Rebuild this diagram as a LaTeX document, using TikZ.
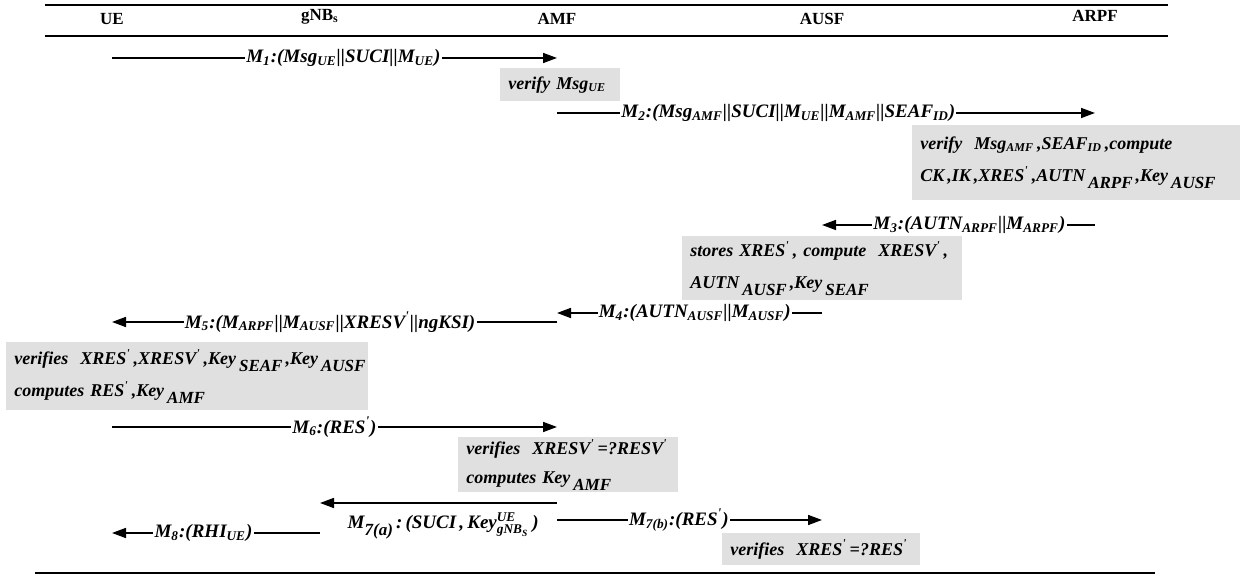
\documentclass[tikz,border=0pt]{standalone}
\usepackage{amsmath}
\usepackage{fontspec}
\setmainfont{Liberation Serif}
\usetikzlibrary{arrows.meta}
\usetikzlibrary{positioning}
\definecolor{boxgray}{HTML}{E0E0E0}
\newcommand{\sbs}[1]{$_{\text{#1}}$}
\newcommand{\bsb}[1]{\raisebox{-0.8ex}{\fontsize{8.5}{9}\selectfont #1}}
\newcommand{\pr}{$^{\text{\textquotesingle}}$}
\begin{document}
\begin{tikzpicture}[x=0.5pt,y=-0.5pt,
                hdr/.style={font=\fontsize{8.5}{9}\selectfont\bfseries,inner sep=0pt},
                rule/.style={line width=1.2pt},
                msg/.style={line width=0.8pt,-{Triangle[length=7pt,width=5pt]}},
                lbl/.style={font=\fontsize{9.5}{10}\selectfont\bfseries\itshape,
                    fill=white,inner sep=0.6pt},
                chk/.style n args={2}{fill=boxgray,anchor=north west,
                    font=\fontsize{9}{16}\selectfont\bfseries\itshape,
                    minimum width=#1,minimum height=#2,
                    text width=#1-8pt,align=left,inner xsep=4pt,inner ysep=0pt}]
                \useasboundingbox (0,0) rectangle (1254,576);
                % entities
                \draw[rule] (45,5) -- (1168,5);
                \draw[rule] (45,36) -- (1168,36);
                \node[hdr] (ue) at (112,19) {UE};
                \node[hdr] (gnb) at (320,17) {gNB\textsubscript{s}};
                \node[hdr] (amf) at (557,19) {AMF};
                \node[hdr] (ausf) at (822,19) {AUSF};
                \node[hdr] (arpf) at (1095,16) {ARPF};
                \draw[rule] (35,573) -- (1155,573);
                % rows of the messages
                \coordinate (r1) at (0,58);
                \coordinate (r2) at (0,113);
                \coordinate (r3) at (0,225);
                \coordinate (r4) at (0,313);
                \coordinate (r5) at (0,322);
                \coordinate (r6) at (0,427);
                \coordinate (r7) at (0,503);
                \coordinate (r8) at (0,520);
                \coordinate (r9) at (0,533);
                % messages
                \draw[msg] (ue |- r1) -- (amf |- r1)
                    node[lbl,pos=0.52] (m1) {M\sbs{1}:(Msg\sbs{UE}||SUCI||M\sbs{UE})};
                \node[chk={60pt}{16.5pt}] (v1) at (500,68) {verify Msg\sbs{UE}};
                \draw[msg] (amf |- r2) -- (arpf |- r2)
                    node[lbl,pos=0.43] (m2) {M\sbs{2}:(Msg\sbs{AMF}||SUCI||M\sbs{UE}||M\sbs{AMF}||SEAF\sbs{ID})};
                \node[chk={164pt}{37.5pt}] (v2) at (912,125)
                    {verify\ \ Msg\sbs{AMF}\,,SEAF\sbs{ID}\,,compute\\
                     CK\,,IK\,,XRES\pr\,,AUTN\,\bsb{ARPF}\,,Key\,\bsb{AUSF}};
                \draw[msg] (arpf |- r3) -- (ausf |- r3)
                    node[lbl,pos=0.46] (m3) {M\sbs{3}:(AUTN\sbs{ARPF}||M\sbs{ARPF})};
                \node[chk={140pt}{32pt}] (v3) at (682,236)
                    {stores XRES\pr\,, compute\ \ XRESV\pr\,,\\
                     AUTN\,\bsb{AUSF}\,,Key\,\bsb{SEAF}};
                \draw[msg] (ausf |- r4) -- (amf |- r4)
                    node[lbl,pos=0.48] (m4) {M\sbs{4}:(AUTN\sbs{AUSF}||M\sbs{AUSF})};
                \draw[msg] (amf |- r5) -- (ue |- r5)
                    node[lbl,pos=0.51] (m5) {M\sbs{5}:(M\sbs{ARPF}||M\sbs{AUSF}||XRESV\pr||ngKSI)};
                \node[chk={181pt}{34pt}] (v5) at (6,342)
                    {\mbox{verifies\ \ XRES\pr\,,XRESV\pr\,,Key\,\bsb{SEAF}\,,Key\,\bsb{AUSF}}\\
                     computes RES\pr\,,Key\,\bsb{AMF}};
                \draw[msg] (ue |- r6) -- (amf |- r6)
                    node[lbl,pos=0.5] (m6) {M\sbs{6}:(RES\pr)};
                \node[chk={110pt}{27.5pt},font=\fontsize{9}{14.5}\selectfont\bfseries\itshape] (v6) at (458,437)
                    {verifies\ \ XRESV\pr\,=?RESV\pr\\
                     computes Key\,\bsb{AMF}};
                \draw[msg] (amf |- r7) -- (gnb |- r7)
                    node[below=1pt,pos=0.48,font=\fontsize{9.5}{10}\selectfont\bfseries\itshape] (m7a)
                    {M\bsb{7(a)}\,:\,(SUCI\,,\,Key$^{\text{UE}}_{\text{gNB}_{\text{S}}}$\,)};
                \draw[msg] (amf |- r8) -- (ausf |- r8)
                    node[lbl,pos=0.46] (m7b) {M\sbs{7(b)}:(RES\pr)};
                \node[chk={99pt}{16pt}] (v7) at (722,533)
                    {verifies\ \ XRES\pr\,=?RES\pr};
                \draw[msg] (gnb |- r9) -- (ue |- r9)
                    node[lbl,pos=0.56] (m8) {M\sbs{8}:(RHI\sbs{UE})};
\end{tikzpicture}
\end{document}
